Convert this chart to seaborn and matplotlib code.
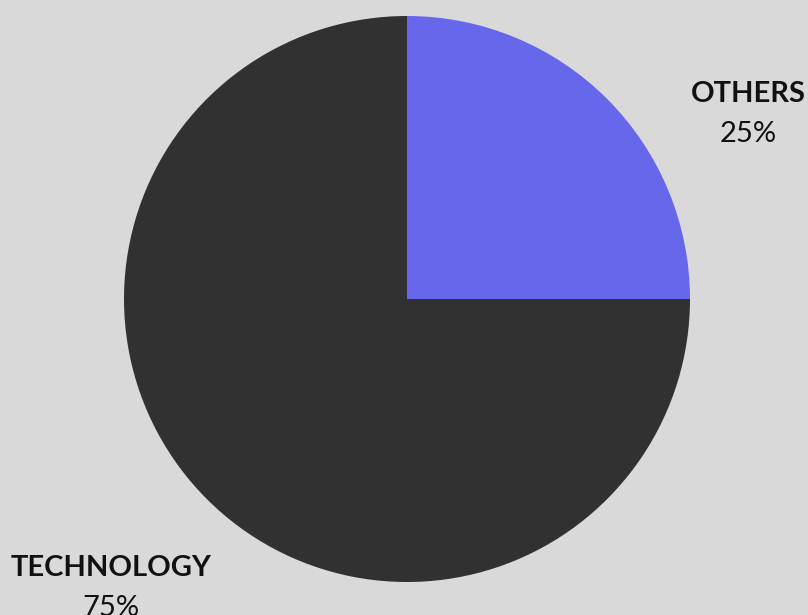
import matplotlib
matplotlib.use("Agg")
import matplotlib.pyplot as plt
import seaborn as sns

categories = ["OTHERS", "TECHNOLOGY"]
values = [25, 75]
pct_labels = ["25%", "75%"]
colors = ["#6767EC", "#313131"]

sns.set_theme(style="white")
plt.rcParams["font.family"] = ["Lato", "DejaVu Sans"]

W, H = 808, 615
fig = plt.figure(figsize=(W / 100, H / 100), dpi=100, facecolor="#D9D9D9")
cx, cy, r = 407, 299, 283
ax = fig.add_axes([(cx - r) / W, (H - cy - r) / H, 2 * r / W, 2 * r / H])
ax.set_facecolor("#D9D9D9")
pal = sns.color_palette(colors)
ax.pie(values, colors=pal, startangle=90, counterclock=False, radius=1,
       wedgeprops=dict(linewidth=0))
ax.set_xlim(-1, 1)
ax.set_ylim(-1, 1)
ax.set_aspect("equal")
ax.axis("off")

# label positions in figure pixels (x center, caption baseline)
label_pos = {"OTHERS": (748, 102), "TECHNOLOGY": (111, 576)}
for cat, pct in zip(categories, pct_labels):
    x, y = label_pos[cat]
    fig.text(x / W, 1 - y / H, cat, ha="center", va="baseline",
             fontsize=21, fontweight="bold", color="#111111")
    fig.text(x / W, 1 - (y + 40) / H, pct, ha="center", va="baseline",
             fontsize=21, color="#111111")

fig.savefig("out.png", dpi=100, facecolor=fig.get_facecolor())
